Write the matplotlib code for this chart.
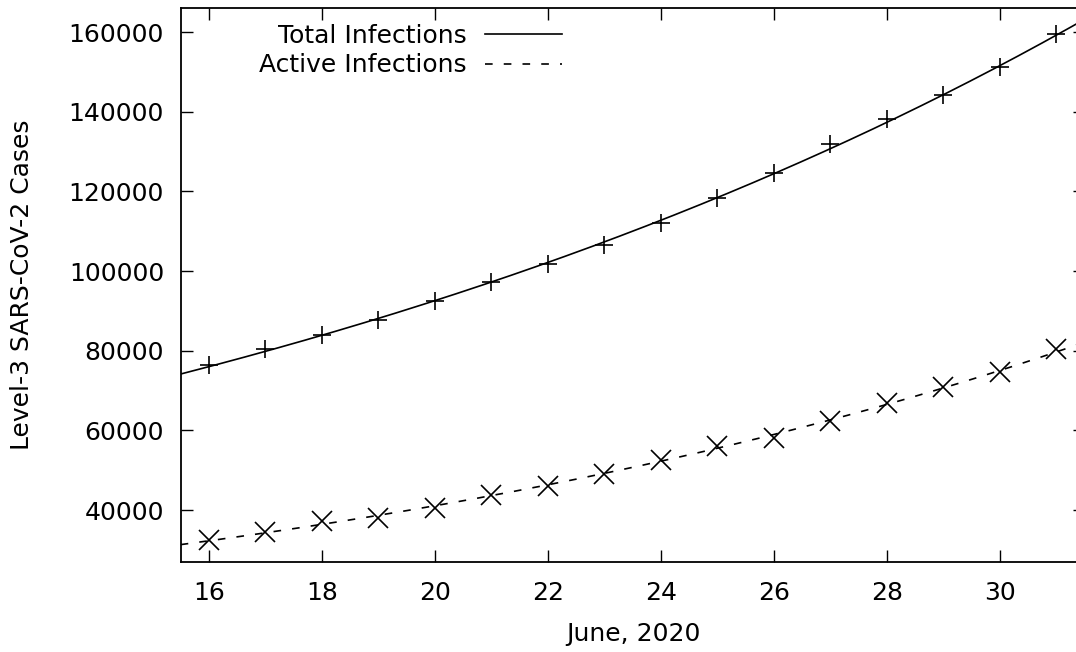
import numpy as np
import matplotlib
matplotlib.use("Agg")
import matplotlib.pyplot as plt

# ---- data ----
days = [16, 17, 18, 19, 20, 21, 22, 23, 24, 25, 26, 27, 28, 29, 30, 31]
total_infections = [76330, 80350, 83940, 87700, 92550, 97240, 101690, 106410,
                    111980, 118410, 124530, 131820, 138090, 144190, 151220, 159510]
active_infections = [32470, 34400, 37160, 38070, 40420, 43690, 46100, 48960,
                     52550, 56070, 58150, 62340, 66790, 70960, 74720, 80420]
x_ticks = [16, 18, 20, 22, 24, 26, 28, 30]
y_ticks = [40000, 60000, 80000, 100000, 120000, 140000, 160000]
label_total = "Total Infections"
label_active = "Active Infections"
x_label = "June, 2020"
y_label = "Level-3 SARS-CoV-2 Cases"

plt.rcParams['font.family'] = ['DejaVu Sans']
plt.rcParams['lines.scale_dashes'] = False

FS = 18
W, H = 1076, 652
fig = plt.figure(figsize=(W / 100, H / 100), dpi=100)
left, right, top, bottom = 180.7, 1084.7, 8.0, 562.0
ax = fig.add_axes([left / W, 1 - bottom / H, (right - left) / W, (bottom - top) / H])

x = np.array(days, dtype=float)
xs = np.linspace(15.5, 31.5, 300)

def expfit(xv, yv):
    b, a = np.polyfit(xv, np.log(np.array(yv, dtype=float)), 1)
    return np.exp(a + b * xs)

ln_total, = ax.plot(xs, expfit(x, total_infections), color='black', lw=1.2,
                    label=label_total)
ln_active, = ax.plot(xs, expfit(x, active_infections), color='black', lw=1.2,
                     dashes=(5.5, 8.0), label=label_active)
ax.plot(x, total_infections, linestyle='none', marker='+', ms=13.5, mew=1.2,
        color='black')
ax.plot(x, active_infections, linestyle='none', marker='x', ms=14, mew=1.2,
        color='black')

ax.set_xticks(x_ticks)
ax.set_yticks(y_ticks)
ax.set_xlim(15.5, 31.5)
ax.set_ylim(26950, 166030)
ax.tick_params(direction='in', length=8.6, width=1.0, top=True, right=True,
               labelsize=FS, colors='black')
ax.tick_params(axis='x', pad=13.5)
ax.tick_params(axis='y', pad=12)
for s in ax.spines.values():
    s.set_linewidth(1.3)

fig.text(633 / W, 1 - 634 / H, x_label, ha='center', va='center', fontsize=FS)
fig.text(22 / W, 1 - 285 / H, y_label, ha='center', va='center', rotation=90,
         fontsize=FS)

leg = ax.legend(handles=[ln_total, ln_active], loc='upper right',
                bbox_to_anchor=(562 / W, 1 - 24 / H), bbox_transform=fig.transFigure,
                frameon=False, markerfirst=False, fontsize=FS, handlelength=3.08,
                handletextpad=0.72, labelspacing=0.22, borderpad=0, borderaxespad=0)

fig.savefig("out.png", dpi=100)
